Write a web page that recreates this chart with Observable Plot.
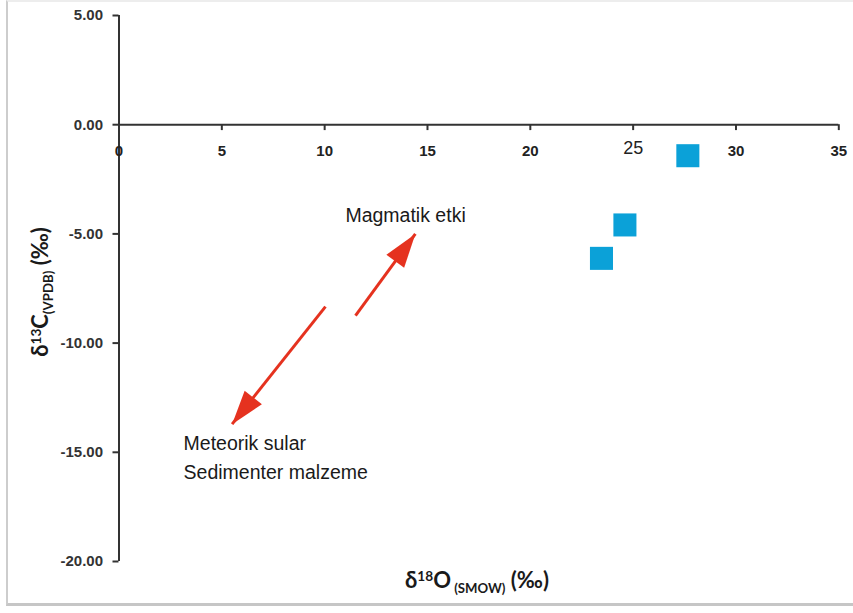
<!DOCTYPE html>
<html><head><meta charset="utf-8">
<script src="https://cdn.jsdelivr.net/npm/d3@7"></script>
<script src="https://cdn.jsdelivr.net/npm/@observablehq/plot@0.6"></script>
<style>
body{margin:0;background:#fff;}
#wrap{position:relative;width:853px;height:613px;overflow:hidden;background:#fff;}
#frame{position:absolute;left:6px;top:0;width:870px;height:606px;border-left:2px solid #cdcdcd;border-bottom:3px solid #c6c6c6;border-top:2px solid #ededed;box-sizing:border-box;}
#chart{position:absolute;left:0;top:0;}
.ttl{position:absolute;font-family:Lato,"Open Sans",sans-serif;font-weight:700;color:#1a1a1a;white-space:nowrap;line-height:1;}
.ttl .sp{font-size:0.62em;position:relative;top:-0.55em;}
.ttl .sb{font-size:0.6em;position:relative;top:0.35em;}
#xt{left:477px;top:580px;font-size:22px;transform:translate(-50%,-50%);}
#yt{left:40px;top:292px;font-size:22px;transform:translate(-50%,-50%) rotate(-90deg);}
</style></head><body>
<div id="wrap"><div id="frame"></div><div id="chart"></div>
<div class="ttl" id="xt">δ<span class="sp">18</span>O<span class="sb"> (SMOW)</span> (‰)</div>
<div class="ttl" id="yt">δ<span class="sp">13</span>C<span class="sb">(VPDB)</span> (‰)</div>
</div>
<script>
// data
const xTicks = [0, 5, 10, 15, 20, 25, 30, 35];
const yTicks = [5, 0, -5, -10, -15, -20];
const d18O = [27.66, 24.6, 23.46];
const d13C = [-1.42, -4.59, -6.12];
const arrowX1 = [11.5, 10.04];
const arrowY1 = [-8.74, -8.33];
const arrowX2 = [14.41, 5.5];
const arrowY2 = [-5.0, -13.71];
const noteX = [11.01, 3.14, 3.14];
const noteY = [-4.16, -14.61, -15.94];
const noteText = ["Magmatik etki", "Meteorik sular", "Sedimenter malzeme"];

const points = d18O.map((x, i) => ({x, y: d13C[i]}));
const arrows = arrowX1.map((x1, i) => ({x1, y1: arrowY1[i], x2: arrowX2[i], y2: arrowY2[i]}));
const notes = noteX.map((x, i) => ({x, y: noteY[i], text: noteText[i]}));

function filledArrow(color, context) {
  const doc = (context && context.document) || document;
  const ns = "http://www.w3.org/2000/svg";
  const m = doc.createElementNS(ns, "marker");
  m.setAttribute("viewBox", "-36 -12 36 24");
  m.setAttribute("markerWidth", "36");
  m.setAttribute("markerHeight", "24");
  m.setAttribute("markerUnits", "userSpaceOnUse");
  m.setAttribute("orient", "auto");
  m.setAttribute("refX", "0");
  m.setAttribute("refY", "0");
  m.setAttribute("fill", color);
  m.setAttribute("stroke", "none");
  const p = doc.createElementNS(ns, "path");
  p.setAttribute("d", "M-34,-11L0,0L-34,11Z");
  m.appendChild(p);
  return m;
}

const font = "'Liberation Sans', Arial, sans-serif";
const chart = Plot.plot({
  width: 853,
  height: 613,
  marginLeft: 118.5,
  marginRight: 14.7,
  marginTop: 15,
  marginBottom: 52,
  x: {domain: [0, 35], axis: null},
  y: {domain: [-20, 5]},
  style: {fontFamily: font, color: "#222", background: "transparent"},
  marks: [
    Plot.axisY(yTicks, {tickSize: 6, tickPadding: 10, tickFormat: d => d.toFixed(2), fontSize: 15, fontWeight: "bold", label: null, strokeWidth: 2, stroke: "#333", fill: "#333"}),
    Plot.ruleX([0], {y1: -20, y2: 5, stroke: "#333", strokeWidth: 2}),
    Plot.ruleY([0], {x1: 0, x2: 35, stroke: "#333", strokeWidth: 2}),
    Plot.ruleX(xTicks, {x: d => d, y1: 0, y2: -0.27, stroke: "#333", strokeWidth: 2}),
    Plot.text(xTicks.filter(d => d !== 25), {x: d => d, y: 0, dy: 26, text: d => String(d), fontSize: 15, fontWeight: "bold", fill: "#222"}),
    Plot.text(xTicks.filter(d => d === 25), {x: d => d, y: 0, dy: 24, text: d => String(d), fontSize: 18, fontWeight: "normal", fill: "#222"}),
    Plot.link(arrows, {x1: "x1", y1: "y1", x2: "x2", y2: "y2", stroke: "#e5321f", strokeWidth: 3, markerEnd: filledArrow}),
    Plot.text(notes, {x: "x", y: "y", text: "text", textAnchor: "start", fontSize: 19.5, fill: "#1a1a1a"}),
    Plot.dot(points, {x: "x", y: "y", symbol: "square", r: 13, fill: "#0ba1d8", stroke: "none"})
  ]
});
document.getElementById("chart").appendChild(chart);
</script>
</body></html>
